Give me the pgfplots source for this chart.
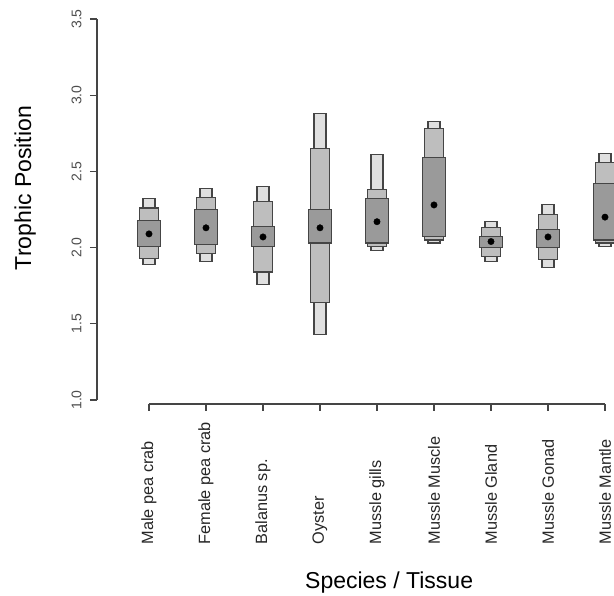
\documentclass[border=0pt]{standalone}
\usepackage{pgfplots}
\pgfplotsset{compat=1.18}
\usepackage{fontspec}
\setmainfont{Liberation Sans}
\definecolor{tpL}{HTML}{E0E0E0}
\definecolor{tpM}{HTML}{BEBEBE}
\definecolor{tpD}{HTML}{9A9A9A}
\definecolor{tpE}{HTML}{454545}
% \tpbox{x}{half width}{low}{high}{style}
\newcommand{\tpbox}[5]{%
  \pgfmathsetmacro\xa{#1-#2}\pgfmathsetmacro\xb{#1+#2}%
  \edef\tptemp{\noexpand\addplot[#5] coordinates {(\xa,#3) (\xb,#3) (\xb,#4) (\xa,#4)} -- cycle;}%
  \tptemp}
\begin{document}
\begin{tikzpicture}
\useasboundingbox (-97pt,-192pt) rectangle (517pt,404pt);
\begin{axis}[
  at={(0pt,0pt)}, anchor=south west,
  scale only axis, width=517pt, height=394pt,
  xmin=0.0877, xmax=9.158, ymin=0.974, ymax=3.559,
  clip mode=individual,
  axis x line*=bottom, axis y line*=left,
  axis line style={draw=none},
  tick align=outside, major tick length=7pt,
  tick style={tpE, line width=1.1pt},
  xtick={1,2,3,4,5,6,7,8,9},
  xticklabels={Male pea crab, Female pea crab, Balanus sp., Oyster, Mussle gills, Mussle Muscle, Mussle Gland, Mussle Gonad, Mussle Mantle},
  xticklabel style={rotate=90, anchor=west, font=\fontsize{16.3}{19}\selectfont, text=black!85},
  xticklabel shift=137pt,
  ytick={1,1.5,2,2.5,3,3.5},
  yticklabel style={rotate=90, anchor=south, font=\fontsize{14}{17}\selectfont, text=black!70,
    /pgf/number format/fixed, /pgf/number format/fixed zerofill, /pgf/number format/precision=1},
  yticklabel shift=5pt,
  /pgf/number format/assume math mode=true,
  xlabel={Species / Tissue},
  xlabel style={at={(axis description cs:0.565,-0.454)}, anchor=center, font=\fontsize{23}{27}\selectfont},
  ylabel={Trophic Position},
  ylabel style={at={(axis description cs:-0.139,0.548)}, anchor=center, font=\fontsize{23}{27}\selectfont},
]
% 95% (light)
\tpbox{1}{0.105}{1.89}{2.32}{fill=tpL, draw=tpE, line width=1.1pt}
\tpbox{2}{0.105}{1.91}{2.39}{fill=tpL, draw=tpE, line width=1.1pt}
\tpbox{3}{0.105}{1.76}{2.40}{fill=tpL, draw=tpE, line width=1.1pt}
\tpbox{4}{0.105}{1.43}{2.88}{fill=tpL, draw=tpE, line width=1.1pt}
\tpbox{5}{0.105}{1.98}{2.61}{fill=tpL, draw=tpE, line width=1.1pt}
\tpbox{6}{0.105}{2.03}{2.83}{fill=tpL, draw=tpE, line width=1.1pt}
\tpbox{7}{0.105}{1.91}{2.17}{fill=tpL, draw=tpE, line width=1.1pt}
\tpbox{8}{0.105}{1.87}{2.28}{fill=tpL, draw=tpE, line width=1.1pt}
\tpbox{9}{0.105}{2.01}{2.62}{fill=tpL, draw=tpE, line width=1.1pt}
% 75% (medium)
\tpbox{1}{0.16}{1.93}{2.26}{fill=tpM, draw=tpE, line width=1.1pt}
\tpbox{2}{0.16}{1.96}{2.33}{fill=tpM, draw=tpE, line width=1.1pt}
\tpbox{3}{0.16}{1.84}{2.30}{fill=tpM, draw=tpE, line width=1.1pt}
\tpbox{4}{0.16}{1.64}{2.65}{fill=tpM, draw=tpE, line width=1.1pt}
\tpbox{5}{0.16}{2.01}{2.38}{fill=tpM, draw=tpE, line width=1.1pt}
\tpbox{6}{0.16}{2.05}{2.78}{fill=tpM, draw=tpE, line width=1.1pt}
\tpbox{7}{0.16}{1.94}{2.13}{fill=tpM, draw=tpE, line width=1.1pt}
\tpbox{8}{0.16}{1.92}{2.22}{fill=tpM, draw=tpE, line width=1.1pt}
\tpbox{9}{0.16}{2.03}{2.56}{fill=tpM, draw=tpE, line width=1.1pt}
% 50% (dark)
\tpbox{1}{0.205}{2.01}{2.18}{fill=tpD, draw=tpE, line width=1.1pt}
\tpbox{2}{0.205}{2.02}{2.25}{fill=tpD, draw=tpE, line width=1.1pt}
\tpbox{3}{0.205}{2.01}{2.14}{fill=tpD, draw=tpE, line width=1.1pt}
\tpbox{4}{0.205}{2.03}{2.25}{fill=tpD, draw=tpE, line width=1.1pt}
\tpbox{5}{0.205}{2.03}{2.32}{fill=tpD, draw=tpE, line width=1.1pt}
\tpbox{6}{0.205}{2.07}{2.59}{fill=tpD, draw=tpE, line width=1.1pt}
\tpbox{7}{0.205}{2.00}{2.07}{fill=tpD, draw=tpE, line width=1.1pt}
\tpbox{8}{0.205}{2.00}{2.12}{fill=tpD, draw=tpE, line width=1.1pt}
\tpbox{9}{0.205}{2.05}{2.42}{fill=tpD, draw=tpE, line width=1.1pt}
% modes
\addplot[only marks, mark=*, mark size=3.2pt, mark options={fill=black, draw=black}]
  coordinates {(1,2.09) (2,2.13) (3,2.07) (4,2.13) (5,2.17) (6,2.28) (7,2.04) (8,2.07) (9,2.20)};
% R-style axis lines
\draw[tpE, line width=1.1pt] (axis cs:1,0.974) -- (axis cs:9,0.974);
\draw[tpE, line width=1.1pt] (axis cs:0.0877,1) -- (axis cs:0.0877,3.5);
\end{axis}
\end{tikzpicture}
\end{document}
